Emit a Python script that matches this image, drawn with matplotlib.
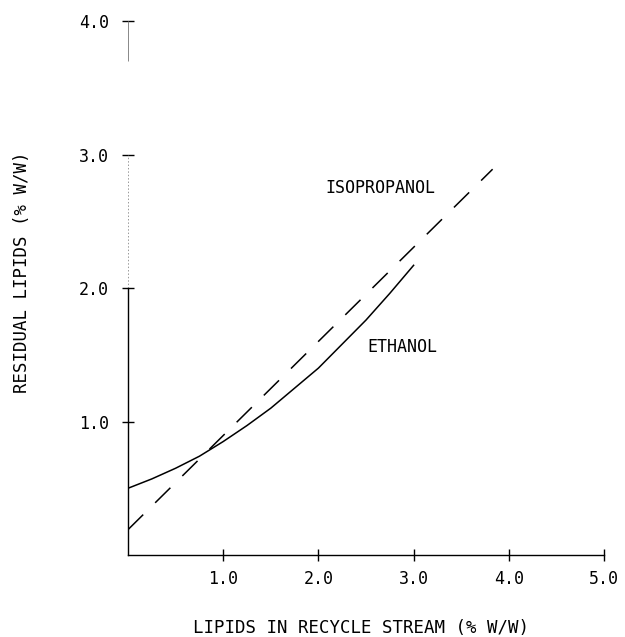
import numpy as np
import matplotlib.pyplot as plt

eth_x = [0.0, 0.25, 0.5, 0.75, 1.0, 1.25, 1.5, 1.75, 2.0, 2.25, 2.5, 2.75, 3.0]
eth_y = [0.50, 0.57, 0.65, 0.74, 0.85, 0.97, 1.10, 1.25, 1.40, 1.58, 1.76, 1.96, 2.17]
iso_x = [0.0, 3.83]
iso_y = [0.19, 2.89]

xticks = [1.0, 2.0, 3.0, 4.0, 5.0]
yticks = [1.0, 2.0, 3.0, 4.0]

plt.rcParams['font.family'] = ['DejaVu Sans Mono']

fig = plt.figure(figsize=(6.25, 6.37), dpi=100)
ax = fig.add_axes([0.2048, 0.1287, 0.7616, 0.8383])

ax.plot(eth_x, eth_y, color='black', lw=1.1)
ax.plot(iso_x, iso_y, color='black', lw=1.1, dashes=(14, 11))

ax.text(2.07, 2.75, 'ISOPROPANOL', fontsize=12, va='center', ha='left')
ax.text(2.51, 1.56, 'ETHANOL', fontsize=12, va='center', ha='left')

ax.set_xlim(0, 5)
ax.set_ylim(0, 4)
ax.spines['top'].set_visible(False)
ax.spines['right'].set_visible(False)
ax.spines['bottom'].set_linewidth(1.0)
ax.spines['left'].set_linewidth(1.0)
ax.spines['left'].set_bounds(0, 2.0)
# faint upper part of the y axis like the plotter output
ax.vlines(0, 2.0, 3.0, color='#999999', lw=0.7, linestyles=(0, (1.5, 2)), clip_on=False)
ax.vlines(0, 3.7, 4.0, color='#888888', lw=0.7, clip_on=False)

ax.set_xticks(xticks)
ax.set_yticks(yticks)
ax.set_xticklabels(['%.1f' % v for v in xticks])
ax.set_yticklabels(['%.1f' % v for v in yticks])
ax.tick_params(direction='inout', length=9, width=1.0, labelsize=12)
ax.tick_params(axis='x', pad=6)
ax.tick_params(axis='y', pad=9)

ax.set_xlabel('LIPIDS IN RECYCLE STREAM (% W/W)', fontsize=12.5, va='center')
ax.set_ylabel('RESIDUAL LIPIDS (% W/W)', fontsize=12.5, va='center')
ax.xaxis.set_label_coords(0.49, -0.137)
ax.yaxis.set_label_coords(-0.223, 0.53)

fig.savefig('out.png', dpi=100)
